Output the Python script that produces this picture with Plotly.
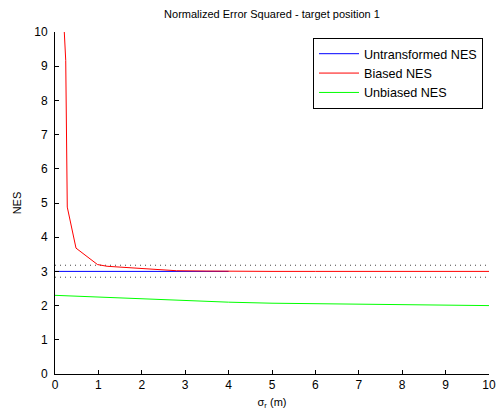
import plotly.graph_objects as go

# Data
untrans_x = [0, 1, 2, 3, 4]
untrans_y = [3.0, 3.0, 3.0, 3.0, 3.0]

biased_x = [0.2, 0.214, 0.247, 0.26, 0.272, 0.283, 0.484, 0.98, 1.2, 1.6, 2.0, 2.4, 2.8, 3.5, 4, 5, 6, 7, 8, 9, 10]
biased_y = [11.0, 10.0, 9.17, 7.44, 5.76, 4.88, 3.68, 3.2, 3.15, 3.12, 3.09, 3.06, 3.02, 3.01, 3.0, 3.0, 3.0, 3.0, 3.0, 3.0, 3.0]

unbiased_x = [0, 1, 2, 3, 4, 5, 6, 7, 8, 9, 10]
unbiased_y = [2.30, 2.25, 2.19, 2.13, 2.10, 2.07, 2.06, 2.04, 2.03, 2.01, 2.00]

bound_x = [0, 10]
upper_bound = [3.18, 3.18]
lower_bound = [2.83, 2.83]

xticks = list(range(0, 11))
yticks = list(range(0, 11))

FONT = "Liberation Sans, Arial, sans-serif"

fig = go.Figure()
fig.add_trace(go.Scatter(x=bound_x, y=upper_bound, mode="lines",
                         line=dict(color="#444444", width=1, dash="1px,4px"), showlegend=False))
fig.add_trace(go.Scatter(x=bound_x, y=lower_bound, mode="lines",
                         line=dict(color="#444444", width=1, dash="1px,4px"), showlegend=False))
fig.add_trace(go.Scatter(x=untrans_x, y=untrans_y, mode="lines", name="Untransformed NES",
                         line=dict(color="#0000ff", width=1)))
fig.add_trace(go.Scatter(x=biased_x, y=biased_y, mode="lines", name="Biased NES",
                         line=dict(color="#ff0000", width=1)))
fig.add_trace(go.Scatter(x=unbiased_x, y=unbiased_y, mode="lines", name="Unbiased NES",
                         line=dict(color="#00ff00", width=1)))

fig.update_layout(
    width=497, height=416,
    margin=dict(l=55, r=8, t=32, b=42, autoexpand=False),
    paper_bgcolor="white", plot_bgcolor="white",
    font=dict(family=FONT, size=11, color="#000000"),
    title=dict(text="Normalized Error Squared - target position 1",
               x=(55 + 489) / 2 / 497, xanchor="center", y=1 - 14 / 416, yanchor="middle",
               font=dict(family=FONT, size=11, color="#000000")),
    legend=dict(x=(483 - 55) / 434, y=1 - (38 - 32) / 342, xanchor="right", yanchor="top",
                bordercolor="#000000", borderwidth=1, bgcolor="white",
                font=dict(family=FONT, size=12.6), tracegroupgap=0,
                itemwidth=40),
    showlegend=True,
)
fig.update_xaxes(range=[0, 10], tickvals=xticks, ticktext=[str(t) for t in xticks],
                 ticks="inside", ticklen=4, tickcolor="#000000", showgrid=False,
                 zeroline=False, showline=True, linecolor="#000000", linewidth=1,
                 tickfont=dict(family=FONT, size=12),
                 title=dict(text="σ<sub>r</sub> (m)", font=dict(family=FONT, size=11), standoff=6))
fig.update_yaxes(range=[0, 10], tickvals=yticks, ticktext=[str(t) for t in yticks],
                 ticks="inside", ticklen=4, tickcolor="#000000", showgrid=False,
                 zeroline=False, showline=True, linecolor="#000000", linewidth=1,
                 tickfont=dict(family=FONT, size=12), ticklabelstandoff=4,
                 title=dict(text="NES", font=dict(family=FONT, size=11), standoff=10))

fig.write_html("out.html", config={"displayModeBar": False},
               post_script="document.body.style.margin='0';document.body.style.overflow='hidden';")
